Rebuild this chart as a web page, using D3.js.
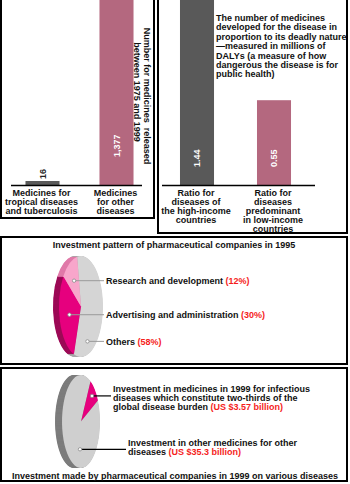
<!DOCTYPE html>
<html><head><meta charset="utf-8">
<script src="https://cdn.jsdelivr.net/npm/d3@7/dist/d3.min.js"></script>
<style>
body{margin:0;background:#fff}
svg{display:block}
text{font-family:"Liberation Sans",Arial,Helvetica,sans-serif;font-weight:bold;font-size:9px;fill:#111}
</style>
</head><body>
<svg id="chart" width="350" height="484"></svg>
<script>
// ---------- DATA ----------
const medCategories = [["Medicines for","tropical diseases","and tuberculosis"],["Medicines","for other","diseases"]];
const medValues = [16, 1377];
const medValueLabels = ["16", "1,377"];
const medTitle = ["Number for medicines  released", "between 1975 and 1999"];

const ratioCategories = [["Ratio for","diseases of","the high-income","countries"],["Ratio for","diseases","predominant","in low-income","countries"]];
const ratioValues = [1.44, 0.55];
const ratioValueLabels = ["1.44", "0.55"];
const ratioNote = ["The number of medicines","developed for the disease in","proportion to its deadly nature","\u2014measured in millions of","DALYs (a measure of how","dangerous the disease is for","public health)"];

const invest1995Title = "Investment pattern of pharmaceutical companies in 1995";
const invest1995Labels = ["Research and development","Advertising and administration","Others"];
const invest1995Values = [12, 30, 58];

const invest1999Title = "Investment made by pharmaceutical companies in 1999 on various diseases";
const invest1999Labels = [["Investment in medicines in 1999 for infectious","diseases which constitute two-thirds of the","global disease burden"],["Investment in other medicines for other","diseases"]];
const invest1999Values = [3.57, 35.3];
const invest1999ValueLabels = ["(US $3.57 billion)", "(US $35.3 billion)"];

// ---------- DRAW ----------
const svg = d3.select("#chart");
const RED = "#f51d1d";

function panel(x, y, w, h, id) {
  svg.append("clipPath").attr("id", id).append("rect").attr("x", x).attr("y", y).attr("width", w).attr("height", h);
  svg.append("rect").attr("x", x).attr("y", y).attr("width", w).attr("height", h)
    .attr("fill", "#fff").attr("stroke", "#000").attr("stroke-width", 2);
}
panel(1, -5, 153, 223, "c1");
panel(158, -5, 189, 238, "c2");
panel(1, 237, 346, 127, "c3");
panel(1, 368, 346, 113, "c4");

function multiline(g, lines, x, y0, dy, anchor) {
  const t = g.append("text").attr("text-anchor", anchor);
  lines.forEach((l, i) => t.append("tspan").attr("x", x).attr("y", y0 + i * dy).text(l));
  return t;
}

// ----- Panel 1 -----
{
  const baseY = 185;
  const x = d3.scaleBand().domain(d3.range(medValues.length)).range([5.5, 153.5]).paddingInner(0.54).paddingOuter(0.27);
  const y = d3.scaleLinear().domain([0, 740]).range([baseY, 0]);
  const g = svg.append("g");
  const colors = ["#5a5a5a", "#b4687f"];
  g.append("g").attr("clip-path", "url(#c1)").selectAll("rect").data(medValues).join("rect")
    .attr("x", (d, i) => x(i)).attr("width", x.bandwidth())
    .attr("y", d => y(d)).attr("height", d => baseY - y(d)).attr("fill", (d, i) => colors[i]);
  g.append("line").attr("x1", 11).attr("x2", 142).attr("y1", baseY + 0.5).attr("y2", baseY + 0.5).attr("stroke", "#000").attr("stroke-width", 1.3);
  medValues.forEach((v, i) => {
    const cx = x(i) + x.bandwidth() / 2;
    const inside = y(v) < 30;
    const yy = inside ? 157 : y(v) - 2;
    g.append("text").attr("transform", `translate(${cx + 3.3},${yy}) rotate(-90)`)
      .attr("text-anchor", "start").style("fill", inside ? "#fff" : "#222").text(medValueLabels[i]);
    multiline(g, medCategories[i], cx - 1, 196, 8.9, "middle");
  });
  g.append("text").attr("transform", "translate(143.7,96) rotate(90)").attr("text-anchor", "middle").style("white-space", "pre").text(medTitle[0]);
  g.append("text").attr("transform", "translate(133.7,92) rotate(90)").attr("text-anchor", "middle").text(medTitle[1]);
}

// ----- Panel 2 -----
{
  const baseY = 185;
  const x = d3.scaleBand().domain(d3.range(ratioValues.length)).range([158.5, 312.5]).paddingInner(0.558).paddingOuter(0.279);
  const y = d3.scaleLinear().domain([0, 1.2]).range([baseY, 0]);
  const g = svg.append("g");
  const colors = ["#595959", "#b4687f"];
  g.append("g").attr("clip-path", "url(#c2)").selectAll("rect").data(ratioValues).join("rect")
    .attr("x", (d, i) => x(i)).attr("width", x.bandwidth())
    .attr("y", d => Math.max(y(d), -5)).attr("height", d => baseY - Math.max(y(d), -5)).attr("fill", (d, i) => colors[i]);
  g.append("line").attr("x1", 162).attr("x2", 315).attr("y1", baseY + 0.5).attr("y2", baseY + 0.5).attr("stroke", "#000").attr("stroke-width", 1.3);
  ratioValues.forEach((v, i) => {
    const cx = x(i) + x.bandwidth() / 2;
    g.append("text").attr("transform", `translate(${cx + 3.3},167) rotate(-90)`)
      .attr("text-anchor", "start").style("fill", "#fff").text(ratioValueLabels[i]);
    const t = multiline(g, ratioCategories[i], cx - 1, 196, 8.9, "middle");
  });
  multiline(g, ratioNote, 216, 21, 9.4, "start");
}

// ----- 3D pie helper -----
function pie3d(g, values, start, cx, cy, rx, ry, depth, topColors, sideColors) {
  const arcs = d3.pie().sort(null).startAngle(start).endAngle(start + 2 * Math.PI)(values);
  const arc = d3.arc().innerRadius(0).outerRadius(1);
  for (let k = depth; k > 0; k -= 0.5) {
    g.append("g").attr("transform", `translate(${cx - k},${cy}) scale(${rx},${ry})`)
      .selectAll("path").data(arcs).join("path").attr("d", arc).attr("fill", (d, i) => sideColors[i]);
  }
  g.append("g").attr("transform", `translate(${cx},${cy}) scale(${rx},${ry})`)
    .selectAll("path").data(arcs).join("path").attr("d", arc).attr("fill", (d, i) => topColors[i]);
  return arcs;
}
function anchorPoint(a, t, r, cx, cy, rx, ry) {
  const ang = a.startAngle + t * (a.endAngle - a.startAngle);
  return [cx + r * rx * Math.sin(ang), cy - r * ry * Math.cos(ang)];
}
function dot(g, p) {
  g.append("circle").attr("cx", p[0]).attr("cy", p[1]).attr("r", 1.7).attr("fill", "#fff").attr("stroke", "#8a8a8a").attr("stroke-width", 0.8);
}

// ----- Panel 3 -----
{
  const g = svg.append("g");
  g.append("text").attr("x", 174).attr("y", 247.5).attr("text-anchor", "middle").text(invest1995Title);
  const cx = 81, cy = 306.5, rx = 22, ry = 50.5;
  // order drawn: Others, Advertising, R&D (clockwise from near top)
  const order = [2, 1, 0];
  const vals = order.map(i => invest1995Values[i]);
  const arcs = pie3d(g, vals, -10 * Math.PI / 180, cx, cy, rx, ry, 6,
    ["#d5d5d5", "#e6007e", "#f8a6cb"], ["#a9a9a9", "#9c0a56", "#e07aa9"]);
  const anchors = { 0: [0.5, 0.6], 1: [0.5, 0.55], 2: [0.8, 0.75] };
  order.forEach((src, j) => {
    const p = anchorPoint(arcs[j], anchors[src][0], anchors[src][1], cx, cy, rx, ry);
    g.append("line").attr("x1", p[0]).attr("x2", 104).attr("y1", p[1]).attr("y2", p[1]).attr("stroke", "#9a9a9a").attr("stroke-width", 1);
    dot(g, p);
    const t = g.append("text").attr("x", 106).attr("y", p[1] + 3.2);
    t.append("tspan").text(invest1995Labels[src] + " ");
    t.append("tspan").style("fill", RED).text("(" + invest1995Values[src] + "%)");
  });
}

// ----- Panel 4 -----
{
  const g = svg.append("g");
  const cx = 81, cy = 421.5, rx = 19, ry = 46.5;
  const arcs = pie3d(g, invest1999Values, 30 * Math.PI / 180, cx, cy, rx, ry, 7,
    ["#e6007e", "#cfcfcf"], ["#8a0048", "#7c7c7c"]);
  const anchorT = [[0.5, 0.8], [0.373, 0.6]];
  const textX = [113, 128];
  const firstBaseOff = [-4, -3];
  arcs.forEach((a, i) => {
    const p = anchorPoint(a, anchorT[i][0], anchorT[i][1], cx, cy, rx, ry);
    g.append("line").attr("x1", p[0]).attr("x2", textX[i] - 2).attr("y1", p[1]).attr("y2", p[1]).attr("stroke", "#000").attr("stroke-width", 1.2);
    dot(g, p);
    const lines = invest1999Labels[i];
    const t = g.append("text");
    lines.forEach((l, k) => {
      const ts = t.append("tspan").attr("x", textX[i]).attr("y", p[1] + firstBaseOff[i] + k * 9).text(l + (k === lines.length - 1 ? " " : ""));
    });
    t.append("tspan").style("fill", RED).text(invest1999ValueLabels[i]);
  });
  g.append("text").attr("x", 175).attr("y", 479).attr("text-anchor", "middle").text(invest1999Title);
}
</script>
</body></html>
